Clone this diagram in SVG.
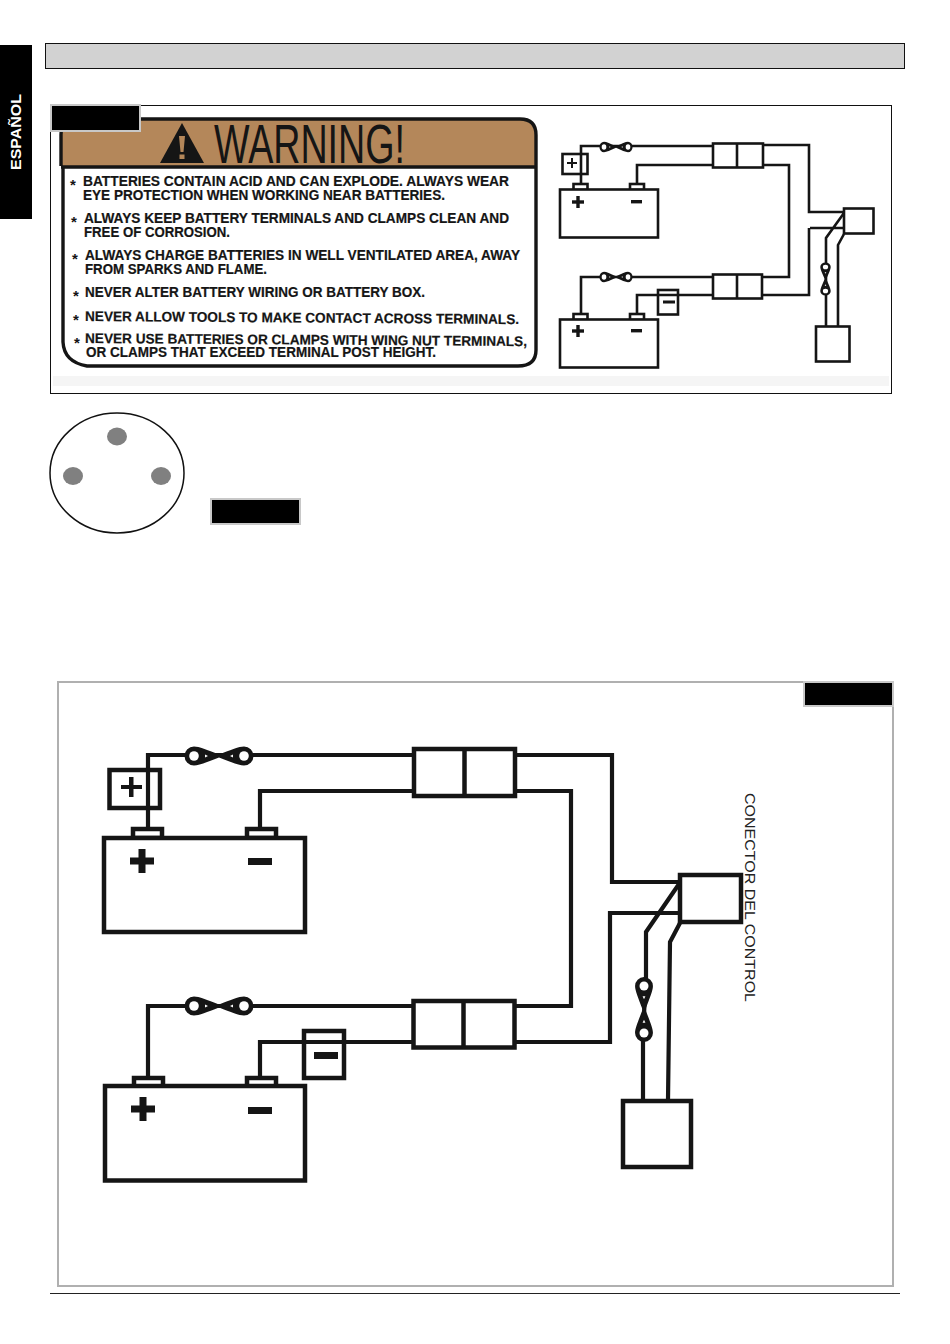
<svg xmlns="http://www.w3.org/2000/svg" xmlns:xlink="http://www.w3.org/1999/xlink" width="950" height="1344" viewBox="0 0 950 1344">
<style>
text{font-family:"Liberation Sans",Arial,sans-serif}
.k{fill:#000;stroke:#c8c8c8;stroke-width:2}
.w{font-weight:bold;font-size:14px;fill:#151515;stroke:#151515;stroke-width:.2}
.s{font-weight:bold;font-size:15px;fill:#151515}
.L{fill:#fff;stroke:#151515;stroke-width:4.5}
.LN{fill:none;stroke:#151515;stroke-width:4.5}
.W{fill:none;stroke:#151515;stroke-width:4.2;stroke-linejoin:miter}
.M{fill:#fff;stroke:#151515;stroke-width:2.6}
.MN{fill:none;stroke:#151515;stroke-width:2.6}
.X{fill:none;stroke:#151515;stroke-width:2.6;stroke-linejoin:miter}
.f{fill:#151515}
.p{fill:#808080}
</style>
<defs>
<g id="fuse">
<path class="f" d="M-25,-9.500C-20,-9.500 -12,-6 0,-1.500C12,-6 20,-9.500 25,-9.500A9.500,9.500 0 0 1 25,9.500C20,9.500 12,6 0,1.500C-12,6 -20,9.500 -25,9.500A9.500,9.500 0 0 1 -25,-9.500Z"/>
<circle cx="-25" cy="0" r="4.800" fill="#fff"/>
<circle cx="25" cy="0" r="4.800" fill="#fff"/>
<path fill="#fff" d="M-14,-1.500L-11,0L-14,1.500ZM14,-1.500L11,0L14,1.500Z"/>
</g>
<g id="plusB"><rect class="f" x="-12" y="-3.500" width="24" height="7"/><rect class="f" x="-3.500" y="-12" width="7" height="24"/></g>
<g id="plusS"><rect class="f" x="-6" y="-1.700" width="12" height="3.400"/><rect class="f" x="-1.700" y="-6" width="3.400" height="12"/></g>
</defs>
<rect width="950" height="1344" fill="#fff"/>

<g id="side-tab"><rect x="0" y="45" width="32" height="174" fill="#000"/>
<text transform="translate(21,170) rotate(-90)" font-size="14" font-weight="bold" fill="#fff" textLength="76" lengthAdjust="spacingAndGlyphs">ESPAÑOL</text></g>
<g id="header-bar"><rect x="45.500" y="43.500" width="859" height="25" fill="#d2d2d2" stroke="#111" stroke-width="1"/></g>

<g id="figure-top">
<rect x="50.500" y="105.500" width="841" height="288" fill="#fff" stroke="#111" stroke-width="1"/>
<rect x="53" y="376" width="836" height="10" fill="#f5f5f5"/>
</g>

<g id="warning-label">
<path d="M77,119H520Q536,119 536,135V350Q536,366 518,366H85Q64,362 64,340V168H60V135Q60,119 77,119Z" fill="#fff"/>
<path d="M77,119H520Q536,119 536,135V166H61V135Q61,119 77,119Z" fill="#b4875a"/>
<path d="M77,119H520Q536,119 536,135V350Q536,366 518,366H87Q64,362 63,342V166M61,166V135Q61,119 77,119M61,167H536" fill="none" stroke="#151515" stroke-width="3.400"/>
<path class="f" d="M182,123L204,163H160Z"/>
<path fill="#b4875a" d="M179,136H185L183.500,152H180.500ZM179.500,154.500H184.500V159H179.500Z"/>
<text x="214" y="163" font-size="55" fill="#151515" textLength="191" lengthAdjust="spacingAndGlyphs">WARNING!</text>
<g>
<text class="s" x="70" y="190">*</text>
<text class="w" x="83" y="186" textLength="426" lengthAdjust="spacingAndGlyphs">BATTERIES CONTAIN ACID AND CAN EXPLODE. ALWAYS WEAR</text>
<text class="w" x="83" y="200" textLength="362" lengthAdjust="spacingAndGlyphs">EYE PROTECTION WHEN WORKING NEAR BATTERIES.</text>
<text class="s" x="71" y="227">*</text>
<text class="w" x="84" y="223" textLength="425" lengthAdjust="spacingAndGlyphs">ALWAYS KEEP BATTERY TERMINALS AND CLAMPS CLEAN AND</text>
<text class="w" x="84" y="237" textLength="146" lengthAdjust="spacingAndGlyphs">FREE OF CORROSION.</text>
<text class="s" x="72" y="264">*</text>
<text class="w" x="85" y="259.500" textLength="435" lengthAdjust="spacingAndGlyphs">ALWAYS CHARGE BATTERIES IN WELL VENTILATED AREA, AWAY</text>
<text class="w" x="85" y="273.500" textLength="182" lengthAdjust="spacingAndGlyphs">FROM SPARKS AND FLAME.</text>
<text class="s" x="73" y="301">*</text>
<text class="w" x="85" y="297" textLength="340" lengthAdjust="spacingAndGlyphs">NEVER ALTER BATTERY WIRING OR BATTERY BOX.</text>
<text class="s" x="73" y="325">*</text>
<text class="w" x="85" y="321" textLength="434" lengthAdjust="spacingAndGlyphs" transform="rotate(0.4 85 321)">NEVER ALLOW TOOLS TO MAKE CONTACT ACROSS TERMINALS.</text>
<text class="s" x="74" y="348">*</text>
<text class="w" x="85" y="343" textLength="442" lengthAdjust="spacingAndGlyphs" transform="rotate(0.4 85 343)">NEVER USE BATTERIES OR CLAMPS WITH WING NUT TERMINALS,</text>
<text class="w" x="86" y="357" textLength="350" lengthAdjust="spacingAndGlyphs">OR CLAMPS THAT EXCEED TERMINAL POST HEIGHT.</text>
</g>
</g>
<rect class="k" x="51" y="105" width="89" height="26"/>

<g id="mini-battery-1"><rect class="M" x="573.500" y="184" width="14" height="6"/><rect class="M" x="630" y="184" width="14" height="6"/><rect class="M" x="560" y="189.500" width="98" height="48"/><use xlink:href="#plusS" href="#plusS" x="578" y="202"/><rect class="f" x="631" y="200" width="11" height="3.400"/></g>
<g id="mini-battery-2"><rect class="M" x="573.500" y="314" width="14" height="6"/><rect class="M" x="630" y="314" width="14" height="6"/><rect class="M" x="560" y="319.500" width="98" height="48"/><use xlink:href="#plusS" href="#plusS" x="578" y="331"/><rect class="f" x="631" y="329" width="11" height="3.400"/></g>
<g id="mini-plus-box"><rect class="M" x="562.500" y="154" width="25" height="20"/><rect class="f" x="567" y="162" width="10" height="2"/><rect class="f" x="571" y="158" width="2" height="10"/></g>
<g id="mini-minus-box"><rect class="M" x="658" y="290" width="20" height="24.500"/><rect class="f" x="663" y="300.500" width="12" height="3"/></g>
<g id="mini-connector-1"><rect class="M" x="713" y="143.500" width="50" height="24"/><path class="MN" d="M737,143V168"/></g>
<g id="mini-connector-2"><rect class="M" x="713" y="274.500" width="49" height="24"/><path class="MN" d="M737,274V298"/></g>
<g id="mini-control"><rect class="M" x="844" y="208.500" width="29.500" height="25"/></g>
<g id="mini-load"><rect class="M" x="816" y="326.500" width="33.500" height="35"/></g>
<g id="mini-connectors">
<path class="X" d="M581,184V146H712M637,184V165H712M763,145H809V212H844M763,165H789V277H762M810,228H844M762,295H809V228M581,314V277H712M637,314V295H712M844,213L826,238V326M844,234L838,245V326"/>
</g>
<g id="mini-fuse-1"><use xlink:href="#fuse" href="#fuse" transform="translate(616,147) scale(.48,.55)"/></g>
<g id="mini-fuse-2"><use xlink:href="#fuse" href="#fuse" transform="translate(616,277) scale(.48,.55)"/></g>
<g id="mini-fuse-3"><use xlink:href="#fuse" href="#fuse" transform="translate(825.500,279) rotate(90) scale(.48,.55)"/></g>

<g id="pin-diagram"><ellipse cx="117" cy="473" rx="67" ry="60" fill="#fff" stroke="#111" stroke-width="1.500"/>
<ellipse class="p" cx="117" cy="436.500" rx="10" ry="9"/><ellipse class="p" cx="73" cy="476" rx="10" ry="9"/><ellipse class="p" cx="161" cy="476" rx="10" ry="9"/></g>
<rect class="k" x="211" y="499" width="89" height="25"/>

<g id="figure-bottom"><rect x="58" y="682" width="835" height="604" fill="#fff" stroke="#b0b0b0" stroke-width="2"/></g>
<rect class="k" x="804" y="682" width="89" height="24"/>

<g id="battery-1"><rect class="L" x="133" y="829" width="29" height="9"/><rect class="L" x="247" y="829" width="29" height="9"/><rect class="L" x="104" y="838" width="201" height="94"/><use xlink:href="#plusB" href="#plusB" x="142" y="861"/><rect class="f" x="248" y="858" width="24" height="7"/></g>
<g id="battery-2"><rect class="L" x="134" y="1078" width="29" height="9"/><rect class="L" x="247" y="1078" width="29" height="9"/><rect class="L" x="105" y="1086" width="200" height="94.500"/><use xlink:href="#plusB" href="#plusB" x="143" y="1109"/><rect class="f" x="248" y="1107" width="24" height="7"/></g>
<g id="plus-box"><rect class="L" x="109.500" y="770" width="50.500" height="38"/><rect class="f" x="121" y="785" width="21" height="4"/><rect class="f" x="129" y="777" width="4.500" height="20"/></g>
<g id="minus-box"><rect class="L" x="304" y="1031" width="40" height="47"/><rect class="f" x="314" y="1052" width="24" height="7"/></g>
<g id="connector-1"><rect class="L" x="414" y="749" width="101" height="47"/><path class="LN" d="M464.500,749V796"/></g>
<g id="connector-2"><rect class="L" x="413.500" y="1001" width="101" height="46.500"/><path class="LN" d="M463.500,1001V1047"/></g>
<g id="control-connector"><rect class="L" x="680" y="875" width="61" height="47"/></g>
<g id="load"><rect class="L" x="623" y="1101" width="68" height="66"/></g>
<g id="connectors">
<path class="W" d="M148,828V755H413M260,828V791H413M517,755H612V882H680M517,791H571V1006H515M148,1077V1006H413M260,1077V1042H413M516,1042H610V913H680M679,884L646,932V977L643,1033V1100M680,923L670,942L668,1100"/>
</g>
<g id="fuse-1"><use xlink:href="#fuse" href="#fuse" x="219" y="756"/></g>
<g id="fuse-2"><use xlink:href="#fuse" href="#fuse" x="219" y="1006"/></g>
<g id="fuse-3"><use xlink:href="#fuse" href="#fuse" transform="translate(644,1009.500) rotate(90) scale(.94)"/></g>
<g id="control-label"><text transform="translate(745,793) rotate(90)" font-size="15" fill="#222" textLength="209" lengthAdjust="spacingAndGlyphs">CONECTOR DEL CONTROL</text></g>
<g id="footer-rule"><path d="M50,1293.500H900" stroke="#222" stroke-width="1"/></g>
</svg>
